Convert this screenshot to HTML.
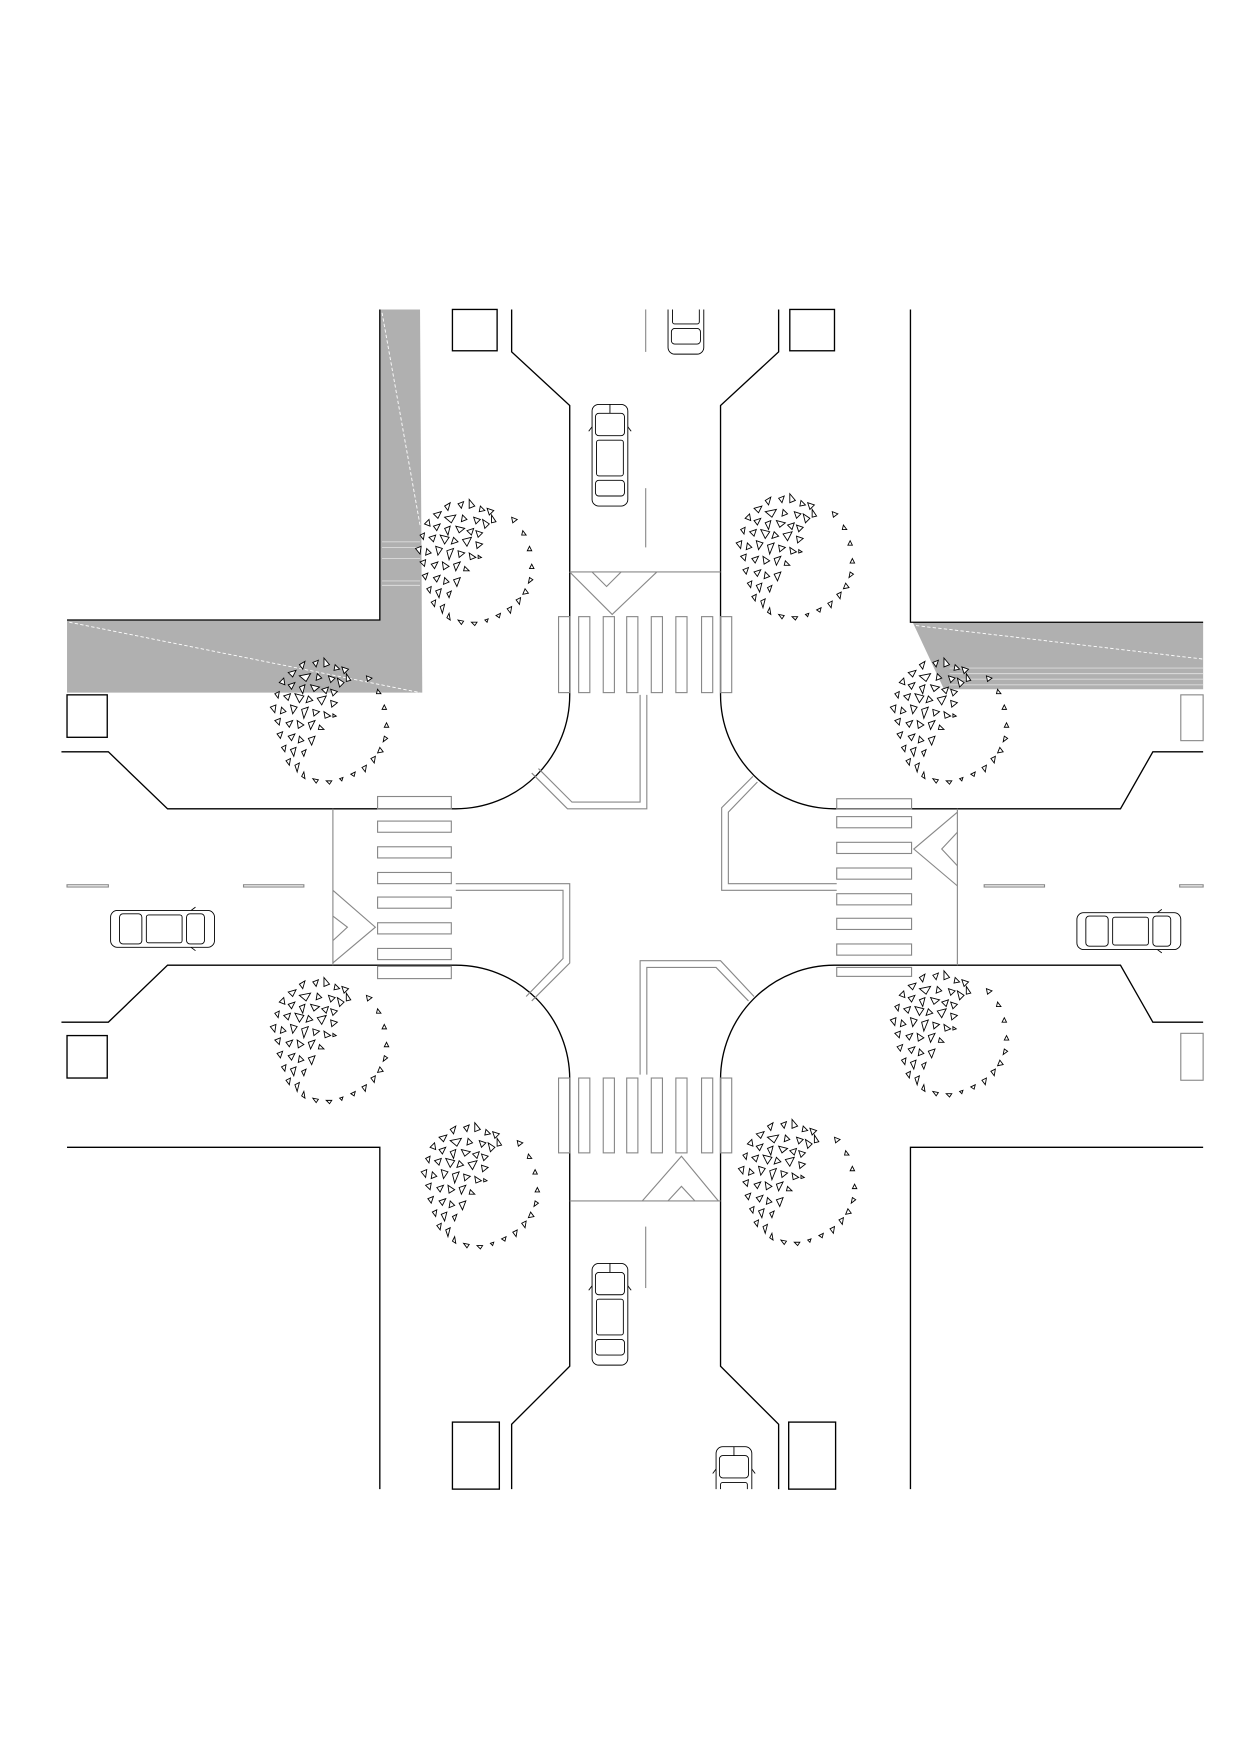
<!DOCTYPE html>
<html><head><meta charset="utf-8"><style>html,body{margin:0;padding:0;background:#fff}svg{display:block}</style></head>
<body>
<svg width="1240" height="1755" viewBox="0 0 1110 1571" preserveAspectRatio="none" xmlns="http://www.w3.org/2000/svg">
<defs>
<g id="tree" stroke="#000" stroke-width="0.8" fill="#fff">
<polygon points="-30,-52 -25,-55 -27,-48"/><polygon points="-18,-54 -13,-56 -15,-50"/><polygon points="-8,-58 -3,-52 -8,-50"/><polygon points="2,-52 6,-48 1,-47"/><polygon points="8,-50 14,-48 10,-44"/>
<polygon points="-40,-45 -33,-47 -36,-41"/><polygon points="-30,-42 -20,-44 -24,-37"/><polygon points="-14,-44 -10,-40 -15,-38"/><polygon points="-4,-42 2,-40 -2,-36"/><polygon points="4,-40 10,-36 6,-32"/><polygon points="12,-44 16,-38 12,-37"/>
<polygon points="-48,-36 -44,-40 -43,-34"/><polygon points="-40,-34 -34,-36 -37,-30"/><polygon points="-30,-32 -25,-34 -27,-26"/><polygon points="-20,-34 -12,-32 -17,-28"/><polygon points="-10,-30 -4,-32 -6,-26"/><polygon points="-2,-30 4,-28 0,-24"/>
<polygon points="-52,-26 -48,-28 -49,-22"/><polygon points="-44,-24 -38,-26 -40,-20"/><polygon points="-34,-26 -26,-24 -30,-18"/><polygon points="-22,-24 -18,-20 -24,-18"/><polygon points="-14,-22 -6,-24 -10,-16"/><polygon points="-2,-20 4,-18 -1,-14"/>
<polygon points="-56,-14 -51,-16 -52,-9"/><polygon points="-46,-14 -42,-10 -47,-8"/><polygon points="-38,-16 -32,-14 -36,-8"/><polygon points="-28,-12 -22,-14 -26,-4"/><polygon points="-18,-12 -12,-10 -17,-6"/><polygon points="-8,-10 -2,-6 -7,-4"/><polygon points="0,-8 3,-6 0,-5"/>
<polygon points="-52,-2 -47,-4 -48,2"/><polygon points="-42,0 -36,-2 -39,4"/><polygon points="-32,-2 -26,2 -31,5"/><polygon points="-22,0 -16,-2 -20,6"/><polygon points="-12,2 -8,6 -13,6"/>
<polygon points="-50,10 -45,8 -47,14"/><polygon points="-40,12 -34,10 -37,16"/><polygon points="-30,12 -26,16 -31,18"/><polygon points="-22,14 -16,12 -19,20"/>
<polygon points="-46,22 -42,20 -43,26"/><polygon points="-38,24 -33,22 -35,30"/><polygon points="-28,26 -24,24 -26,30"/>
<polygon points="-42,34 -38,32 -39,38"/><polygon points="-34,38 -30,36 -32,44"/><polygon points="-28,48 -26,44 -25,50"/>
<polygon points="30,-42 35,-40 31,-37"/><polygon points="40,-30 43,-26 39,-26"/><polygon points="46,-16 48,-12 44,-12"/><polygon points="48,0 50,4 46,4"/><polygon points="46,12 49,14 45,17"/><polygon points="42,22 45,26 40,27"/><polygon points="34,32 38,30 37,36"/><polygon points="26,40 30,38 29,44"/><polygon points="16,46 20,44 19,48"/><polygon points="6,50 9,49 8,52"/><polygon points="-6,52 -1,52 -3,55"/><polygon points="-18,50 -13,51 -15,54"/>
</g>
<g id="carv" stroke="#000" stroke-width="0.8" fill="#fff">
<rect x="0" y="0" width="32" height="91" rx="6"/><rect x="3" y="8" width="26" height="20" rx="3"/><rect x="4" y="32" width="24" height="32" rx="2"/><rect x="3" y="68" width="26" height="14" rx="3"/>
<line x1="0" y1="20" x2="-3" y2="24"/><line x1="32" y1="20" x2="35" y2="24"/><line x1="16" y1="0" x2="16" y2="8"/>
</g>
<g id="carh" stroke="#000" stroke-width="0.8" fill="#fff">
<rect x="0" y="0" width="93" height="33" rx="6"/><rect x="8" y="3" width="20" height="27" rx="3"/><rect x="32" y="4" width="32" height="25" rx="2"/><rect x="68" y="3" width="16" height="27" rx="3"/>
<line x1="72" y1="0" x2="76" y2="-3"/><line x1="72" y1="33" x2="76" y2="36"/>
</g>
<clipPath id="clip"><rect x="55" y="277" width="1022" height="1056"/></clipPath>
</defs>
<rect width="1110" height="1571" fill="#fff"/>
<polygon points="340,277 376,277 378,620 60,620 60,555 340,555" fill="#b0b0b0"/>
<polygon points="817,557 1077,557 1077,617 845,617" fill="#b0b0b0"/>
<g stroke="#fff" stroke-width="0.8" stroke-dasharray="3,2" fill="none">
<line x1="342" y1="280" x2="376" y2="470"/><line x1="62" y1="557" x2="376" y2="620"/>
<line x1="820" y1="560" x2="1077" y2="590"/>
</g>
<g stroke="#ddd" stroke-width="0.8" fill="none">
<line x1="342" y1="485" x2="376" y2="485"/><line x1="342" y1="490" x2="376" y2="490"/><line x1="342" y1="500" x2="376" y2="500"/><line x1="342" y1="520" x2="376" y2="520"/><line x1="342" y1="524" x2="376" y2="524"/>
<line x1="850" y1="598" x2="1077" y2="598"/><line x1="850" y1="603" x2="1077" y2="603"/><line x1="850" y1="608" x2="1077" y2="608"/><line x1="850" y1="613" x2="1077" y2="613"/>
</g>
<g stroke="#000" stroke-width="1.2" fill="none">
<polyline points="340,277 340,555 60,555"/>
<polyline points="815,277 815,557 1077,557"/>
<polyline points="60,1027 340,1027 340,1333"/>
<polyline points="1077,1027 815,1027 815,1333"/>
<path d="M458,277 L458,315 L510,363 L510,622 A102,102 0 0 1 408,724 L150,724 L97,673 L55,673"/>
<path d="M697,277 L697,315 L645,363 L645,622 A102,102 0 0 0 747,724 L1003,724 L1032,673 L1077,673"/>
<path d="M55,915 L97,915 L150,864 L408,864 A102,102 0 0 1 510,966 L510,1223 L458,1275 L458,1333"/>
<path d="M1077,915 L1032,915 L1003,864 L747,864 A102,102 0 0 0 645,966 L645,1223 L697,1275 L697,1333"/>
<rect x="405" y="277" width="40" height="37"/><rect x="707" y="277" width="40" height="37"/>
<rect x="60" y="622" width="36" height="38"/><rect x="60" y="927" width="36" height="38"/>
<rect x="405" y="1273" width="42" height="60"/><rect x="706" y="1273" width="42" height="60"/>
</g>
<g stroke="#888" stroke-width="1" fill="none">
<rect x="1057" y="622" width="20" height="41"/><rect x="1057" y="925" width="20" height="42"/>
<line x1="578" y1="277" x2="578" y2="315"/><line x1="578" y1="437" x2="578" y2="490"/><line x1="578" y1="1098" x2="578" y2="1153"/>
<rect x="60" y="792" width="37" height="2"/><rect x="218" y="792" width="54" height="2"/><rect x="881" y="792" width="54" height="2"/><rect x="1056" y="792" width="21" height="2"/>
<line x1="510" y1="512" x2="645" y2="512"/><line x1="510" y1="1075" x2="645" y2="1075"/>
<line x1="298" y1="724" x2="298" y2="864"/><line x1="857" y1="724" x2="857" y2="864"/>
<polyline points="510,512 548,550 588,512"/><polyline points="530,512 543,525 556,512"/>
<polyline points="575,1075 610,1035 643,1075"/><polyline points="598,1075 610,1062 622,1075"/>
<polyline points="298,797 336,830 298,862"/><polyline points="298,820 311,830 298,842"/>
<polyline points="857,727 818,760 857,793"/><polyline points="857,745 843,760 857,775"/>
<rect x="500" y="552" width="10" height="68"/><rect x="518" y="552" width="10" height="68"/><rect x="540" y="552" width="10" height="68"/><rect x="561" y="552" width="10" height="68"/><rect x="583" y="552" width="10" height="68"/><rect x="605" y="552" width="10" height="68"/><rect x="628" y="552" width="10" height="68"/><rect x="645" y="552" width="10" height="68"/>
<rect x="500" y="965" width="10" height="67"/><rect x="518" y="965" width="10" height="67"/><rect x="540" y="965" width="10" height="67"/><rect x="561" y="965" width="10" height="67"/><rect x="583" y="965" width="10" height="67"/><rect x="605" y="965" width="10" height="67"/><rect x="628" y="965" width="10" height="67"/><rect x="645" y="965" width="10" height="67"/>
<rect x="338" y="713" width="66" height="11"/><rect x="338" y="735" width="66" height="10"/><rect x="338" y="758" width="66" height="10"/><rect x="338" y="781" width="66" height="10"/><rect x="338" y="803" width="66" height="10"/><rect x="338" y="826" width="66" height="10"/><rect x="338" y="849" width="66" height="10"/><rect x="338" y="865" width="66" height="11"/>
<rect x="749" y="715" width="67" height="9"/><rect x="749" y="731" width="67" height="10"/><rect x="749" y="754" width="67" height="10"/><rect x="749" y="777" width="67" height="10"/><rect x="749" y="800" width="67" height="10"/><rect x="749" y="822" width="67" height="10"/><rect x="749" y="845" width="67" height="10"/><rect x="749" y="866" width="67" height="8"/>
<polyline points="573,622 573,718 512,718 482,688"/><polyline points="579,622 579,724 508,724 476,692"/>
<polyline points="749,791 652,791 652,727 678,700"/><polyline points="749,797 646,797 646,723 674,695"/>
<polyline points="408,791 510,791 510,862 476,896"/><polyline points="408,797 504,797 504,858 471,892"/>
<polyline points="573,962 573,860 645,860 675,892"/><polyline points="579,962 579,866 641,866 670,896"/>
</g>
<use href="#tree" x="428" y="505"/><use href="#tree" x="715" y="500"/>
<use href="#tree" x="298" y="647"/><use href="#tree" x="853" y="647"/>
<use href="#tree" x="298" y="933"/><use href="#tree" x="853" y="927"/>
<use href="#tree" x="433" y="1063"/><use href="#tree" x="717" y="1060"/>
<g clip-path="url(#clip)">
<use href="#carv" x="530" y="362"/><use href="#carv" x="598" y="226"/>
<use href="#carv" x="530" y="1131"/><use href="#carv" x="641" y="1295"/>
<use href="#carh" x="99" y="815"/><use href="#carh" x="964" y="817"/>
</g>
</svg>
</body></html>
